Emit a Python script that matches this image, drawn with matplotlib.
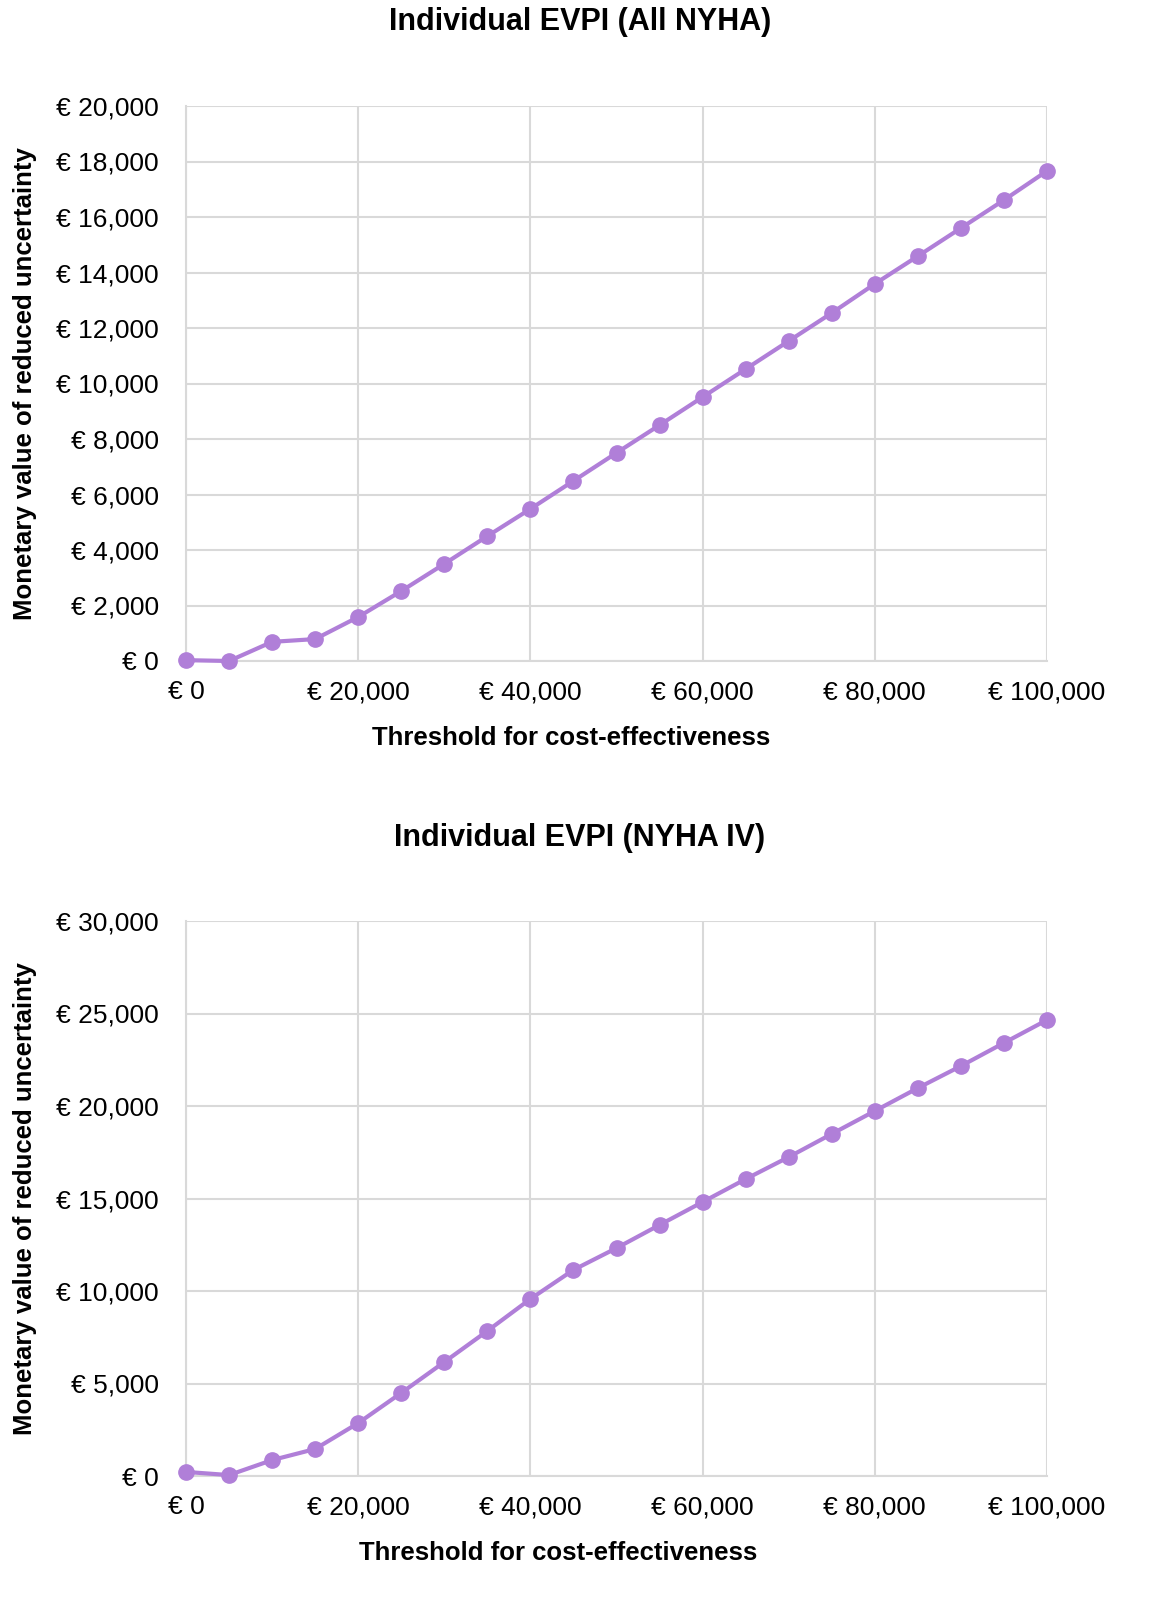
import matplotlib
matplotlib.use("Agg")
import matplotlib.pyplot as plt
from matplotlib.ticker import FuncFormatter, MultipleLocator

plt.rcParams['font.family'] = ['Liberation Sans', 'DejaVu Sans']

thresholds = [0, 5000, 10000, 15000, 20000, 25000, 30000, 35000, 40000, 45000, 50000,
              55000, 60000, 65000, 70000, 75000, 80000, 85000, 90000, 95000, 100000]
evpi_all = [30, 0, 690, 790, 1585, 2520, 3500, 4500, 5480, 6490, 7500,
            8500, 9510, 10520, 11530, 12540, 13590, 14590, 15600, 16610, 17660]
evpi_iv = [220, 50, 860, 1460, 2860, 4490, 6160, 7840, 9570, 11140, 12320,
           13570, 14810, 16050, 17240, 18490, 19730, 20970, 22160, 23410, 24650]

titles = ["Individual EVPI (All NYHA)", "Individual EVPI (NYHA IV)"]
ymax = [20000, 30000]
ystep = [2000, 5000]
series = [evpi_all, evpi_iv]

color = "#B07FD8"
grid_c = "#D9D9D9"

fig = plt.figure(figsize=(11.58, 16.23), dpi=100)
W, H = 1158, 1623
boxes = [(186, 106, 1047, 661), (186, 921, 1047, 1476)]
title_pos = [(580, 22), (580, 838)]
xlabel_pos = [(571, 738), (558, 1553)]

fmt = FuncFormatter(lambda v, p: "€ {:,.0f}".format(v))

for i in range(2):
    l, t, r, b = boxes[i]
    ax = fig.add_axes([l / W, 1 - b / H, (r - l) / W, (b - t) / H])
    ax.plot(thresholds, series[i], color=color, lw=3, marker='o', ms=11, zorder=3, clip_on=False)
    ax.set_xlim(0, 100000)
    ax.set_ylim(0, ymax[i])
    ax.xaxis.set_major_locator(MultipleLocator(20000))
    ax.yaxis.set_major_locator(MultipleLocator(ystep[i]))
    ax.xaxis.set_major_formatter(fmt)
    ax.yaxis.set_major_formatter(fmt)
    ax.grid(True, color=grid_c, lw=1.5)
    ax.set_axisbelow(True)
    for s in ax.spines.values():
        s.set_visible(False)
    for side in ('left', 'bottom'):
        ax.spines[side].set_visible(True)
        ax.spines[side].set_color(grid_c)
        ax.spines[side].set_linewidth(1.5)
    ax.tick_params(length=0, labelsize=19)
    ax.tick_params(axis='x', pad=14)
    ax.tick_params(axis='y', pad=19.5)
    fig.text(title_pos[i][0] / W, 1 - title_pos[i][1] / H, titles[i], ha='center', va='center',
             fontsize=22, fontweight='bold')
    fig.text(xlabel_pos[i][0] / W, 1 - xlabel_pos[i][1] / H, "Threshold for cost-effectiveness",
             ha='center', va='center', fontsize=18.5, fontweight='bold')
    fig.text(25 / W, 1 - (t + b) / 2 / H, "Monetary value of reduced uncertainty", rotation=90,
             ha='center', va='center', fontsize=18.5, fontweight='bold')

fig.savefig("out.png", dpi=100, facecolor='white')
